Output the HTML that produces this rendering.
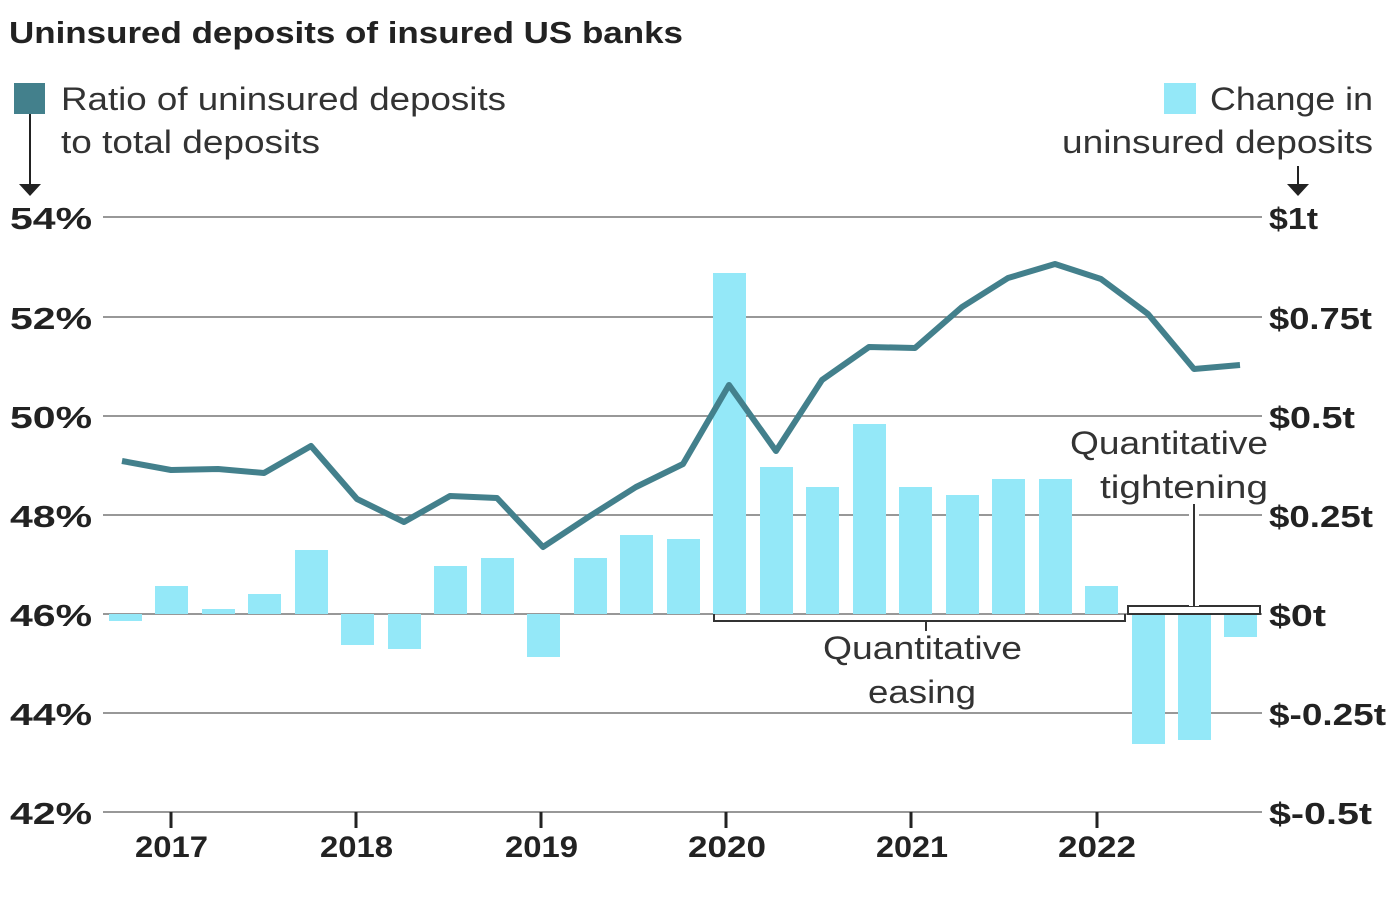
<!DOCTYPE html>
<html><head><meta charset="utf-8"><style>
html,body{margin:0;padding:0;background:#fff;}
svg{display:block;font-family:"Liberation Sans",sans-serif;}
</style></head><body>
<svg width="1396" height="898" viewBox="0 0 1396 898" xmlns="http://www.w3.org/2000/svg">
<text x="9" y="43" font-size="31" font-weight="bold" fill="#222" textLength="674" lengthAdjust="spacingAndGlyphs">Uninsured deposits of insured US banks</text>
<rect x="14" y="83" width="31" height="31" fill="#43808c"/>
<line x1="30" y1="114" x2="30" y2="186" stroke="#222" stroke-width="2"/>
<polygon points="19,184 41,184 30,196" fill="#222"/>
<g font-size="32" fill="#333" lengthAdjust="spacingAndGlyphs">
<text x="61" y="110" textLength="445" lengthAdjust="spacingAndGlyphs">Ratio of uninsured deposits</text>
<text x="61" y="153" textLength="259" lengthAdjust="spacingAndGlyphs">to total deposits</text>
<text x="1210" y="110" textLength="163" lengthAdjust="spacingAndGlyphs">Change in</text>
<text x="1062" y="153" textLength="311" lengthAdjust="spacingAndGlyphs">uninsured deposits</text>
</g>
<rect x="1164" y="83" width="32" height="31" fill="#94e8f8"/>
<line x1="1298" y1="166" x2="1298" y2="186" stroke="#222" stroke-width="2"/>
<polygon points="1287,184 1309,184 1298,196" fill="#222"/>
<g stroke="#777" stroke-width="1.5">
<line x1="103" y1="217" x2="1262" y2="217"/>
<line x1="103" y1="317" x2="1262" y2="317"/>
<line x1="103" y1="416" x2="1262" y2="416"/>
<line x1="103" y1="515" x2="1262" y2="515"/>
<line x1="103" y1="614" x2="1262" y2="614"/>
<line x1="103" y1="713" x2="1262" y2="713"/>
<line x1="103" y1="812" x2="1262" y2="812"/>
</g>
<g font-size="31" font-weight="bold" fill="#222">
<text x="10" y="229" textLength="82" lengthAdjust="spacingAndGlyphs">54%</text>
<text x="10" y="329" textLength="82" lengthAdjust="spacingAndGlyphs">52%</text>
<text x="10" y="428" textLength="82" lengthAdjust="spacingAndGlyphs">50%</text>
<text x="10" y="527" textLength="82" lengthAdjust="spacingAndGlyphs">48%</text>
<text x="10" y="626" textLength="82" lengthAdjust="spacingAndGlyphs">46%</text>
<text x="10" y="725" textLength="82" lengthAdjust="spacingAndGlyphs">44%</text>
<text x="10" y="824" textLength="82" lengthAdjust="spacingAndGlyphs">42%</text>
<text x="1269" y="229" textLength="49" lengthAdjust="spacingAndGlyphs">$1t</text>
<text x="1269" y="329" textLength="103" lengthAdjust="spacingAndGlyphs">$0.75t</text>
<text x="1269" y="428" textLength="86" lengthAdjust="spacingAndGlyphs">$0.5t</text>
<text x="1269" y="527" textLength="104" lengthAdjust="spacingAndGlyphs">$0.25t</text>
<text x="1269" y="626" textLength="57" lengthAdjust="spacingAndGlyphs">$0t</text>
<text x="1269" y="725" textLength="117" lengthAdjust="spacingAndGlyphs">$-0.25t</text>
<text x="1269" y="824" textLength="103" lengthAdjust="spacingAndGlyphs">$-0.5t</text>
</g>
<g fill="#94e8f8">
<rect x="109" y="614" width="33" height="7"/>
<rect x="155" y="586" width="33" height="28"/>
<rect x="202" y="609" width="33" height="5"/>
<rect x="248" y="594" width="33" height="20"/>
<rect x="295" y="550" width="33" height="64"/>
<rect x="341" y="614" width="33" height="31"/>
<rect x="388" y="614" width="33" height="35"/>
<rect x="434" y="566" width="33" height="48"/>
<rect x="481" y="558" width="33" height="56"/>
<rect x="527" y="614" width="33" height="43"/>
<rect x="574" y="558" width="33" height="56"/>
<rect x="620" y="535" width="33" height="79"/>
<rect x="667" y="539" width="33" height="75"/>
<rect x="713" y="273" width="33" height="341"/>
<rect x="760" y="467" width="33" height="147"/>
<rect x="806" y="487" width="33" height="127"/>
<rect x="853" y="424" width="33" height="190"/>
<rect x="899" y="487" width="33" height="127"/>
<rect x="946" y="495" width="33" height="119"/>
<rect x="992" y="479" width="33" height="135"/>
<rect x="1039" y="479" width="33" height="135"/>
<rect x="1085" y="586" width="33" height="28"/>
<rect x="1132" y="614" width="33" height="130"/>
<rect x="1178" y="614" width="33" height="126"/>
<rect x="1224" y="614" width="33" height="23"/>
</g>
<polyline fill="none" stroke="#43808c" stroke-width="6" stroke-linejoin="round" points="122,461 171,470 218,469 264,473 311,446 357,499 404,522 450,496 497,498 543,547 590,516 636,487 683,464 729,385 776,451 822,380 869,347 915,348 962,307 1008,278 1055,264 1101,279 1148,314 1194,369 1240,365"/>
<polyline fill="none" stroke="#333" stroke-width="2" points="714,614 714,621 1125,621 1125,614"/>
<line x1="926" y1="621" x2="926" y2="631" stroke="#333" stroke-width="2"/>
<rect x="1128" y="606" width="132" height="8" fill="#fff" stroke="#333" stroke-width="2"/>
<line x1="1194" y1="505" x2="1194" y2="606" stroke="#fff" stroke-width="10"/>
<line x1="1194" y1="504" x2="1194" y2="606" stroke="#333" stroke-width="2"/>
<g font-size="32" fill="#333">
<text x="823" y="659" textLength="199" lengthAdjust="spacingAndGlyphs">Quantitative</text>
<text x="868" y="703" textLength="108" lengthAdjust="spacingAndGlyphs">easing</text>
<text x="1070" y="454" textLength="198" lengthAdjust="spacingAndGlyphs">Quantitative</text>
<text x="1100" y="498" textLength="168" lengthAdjust="spacingAndGlyphs">tightening</text>
</g>
<g stroke="#222" stroke-width="3">
<line x1="171" y1="812" x2="171" y2="828"/><line x1="356" y1="812" x2="356" y2="828"/>
<line x1="541" y1="812" x2="541" y2="828"/><line x1="726" y1="812" x2="726" y2="828"/>
<line x1="911" y1="812" x2="911" y2="828"/><line x1="1097" y1="812" x2="1097" y2="828"/>
</g>
<g font-size="30" font-weight="bold" fill="#222">
<text x="135" y="857" textLength="73" lengthAdjust="spacingAndGlyphs">2017</text>
<text x="320" y="857" textLength="73" lengthAdjust="spacingAndGlyphs">2018</text>
<text x="505" y="857" textLength="73" lengthAdjust="spacingAndGlyphs">2019</text>
<text x="688" y="857" textLength="78" lengthAdjust="spacingAndGlyphs">2020</text>
<text x="876" y="857" textLength="72" lengthAdjust="spacingAndGlyphs">2021</text>
<text x="1058" y="857" textLength="78" lengthAdjust="spacingAndGlyphs">2022</text>
</g>
</svg>
</body></html>
